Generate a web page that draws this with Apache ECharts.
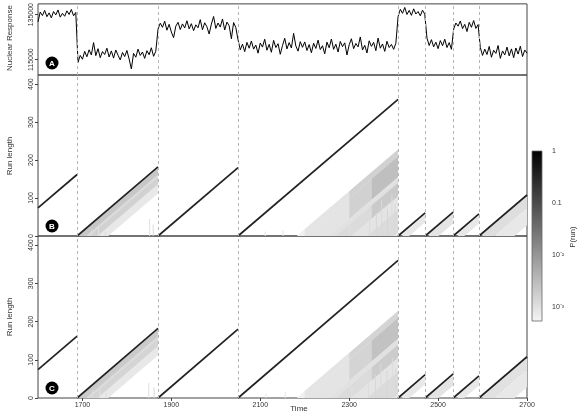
<!DOCTYPE html>
<html><head><meta charset="utf-8">
<script src="https://cdn.jsdelivr.net/npm/echarts@6/dist/echarts.min.js"></script>
<style>html,body{margin:0;padding:0;background:#fff}#chart{width:579px;height:413px}</style>
</head><body><div id="chart"></div>
<script>
// ---------- DATA ----------
const timeStart = 1600, timeStep = 5;
const responseValues = [
  131800,136200,134600,136900,134100,135800,133600,136400,134900,137100,133900,135600,134300,136700,135100,137300,134500,136000,
  113800,116900,115200,118700,116300,119400,117100,122600,116800,119900,115900,118600,
  117300,120100,116200,118900,115700,119300,117000,114900,118200,116400,119100,115300,
  110900,117800,116100,119700,116900,118400,115600,119000,117200,120300,116500,118800,
  128600,131200,129400,132100,128100,130700,127300,124800,129900,131600,128400,130900,
  129100,132300,128700,131000,127900,130500,129200,132800,128300,131400,129600,126400,
  130800,134200,128900,131300,129500,133100,128200,131700,130100,124300,131500,129300,
  123800,119400,121900,118600,122700,120100,123300,119700,121500,117900,122400,120600,
  124100,119200,121800,118300,123600,120400,122100,117400,121300,124500,119800,122600,
  120200,126700,121100,118800,123000,120500,122900,119100,121700,118100,122300,120000,
  123700,119500,121200,117600,122800,120300,124200,119600,121900,118400,123100,120800,
  122500,117100,121600,124300,119900,122200,120700,125100,119300,121400,118000,123400,
  120900,122700,119000,124600,120100,122000,118700,123200,120400,121800,119600,122300,
  134200,137400,135600,138200,135100,136900,134700,137600,135300,136400,134500,137000,135200,
  124600,121300,123900,120700,122800,119900,123500,121200,124100,120400,122600,119600,
  128600,131300,129900,132200,128800,130700,127500,131600,129400,132400,128900,130600,
  120400,116900,119700,117300,120900,116100,119200,117800,121300,115600,118900,117100,
  120600,116700,119800,115900,120200,117500,121000,116400,119300,117900
];
const changepoints = [1688,1870,2050,2410,2471,2534,2592];
const segStart   = [1600,1688,1870,2050,2410,2471,2534,2592];
const segEnd     = [1688,1870,2050,2410,2471,2534,2592,2700];
const runAtStart = [74,0,0,0,0,0,0,0];
const runAtEnd   = [162,182,180,360,61,63,58,108];
const timeTicks = [1700,1900,2100,2300,2500,2700];
const responseTicks = [115000,135000];
const runTicks = [0,100,200,300,400];
const probTicks = [-3,-2,-1,0];             // log10 P(run)
const probTickLabels = ['10\u207B\u00B3','10\u207B\u00B2','0.1','1'];
// bands of posterior mass parallel to the run-length diagonal:
// [segment origin s (r = t - s), tFrom, tTo, offsetTop, offsetBottom, probability]
const bandsB = [
  [1688,1690,1870,3,48,0.0012],[1688,1690,1870,4,20,0.0022],[1688,1700,1870,28,44,0.0016],[1688,1720,1870,48,70,0.0008],
  [2050,2182,2410,132,358,0.00062],
  [2050,2200,2300,132,150,0.0009],[2050,2300,2410,132,150,0.0016],
  [2050,2200,2300,150,205,0.0009],[2050,2300,2350,150,205,0.0016],[2050,2350,2410,150,205,0.0028],
  [2050,2255,2410,205,220,0.001],
  [2050,2270,2350,220,255,0.0012],[2050,2350,2410,220,255,0.002],
  [2050,2305,2410,255,290,0.0009],[2050,2340,2410,290,350,0.0012],
  [2410,2420,2471,5,25,0.0008],[2471,2480,2534,4,30,0.0009],[2534,2545,2592,4,25,0.0008],
  [2592,2600,2700,4,35,0.0011],[2592,2620,2700,35,80,0.0008]
];
const bandsC = [
  [1688,1690,1870,3,48,0.0012],[1688,1690,1870,4,20,0.002],[1688,1700,1870,28,44,0.0015],[1688,1720,1870,48,70,0.0008],
  [2050,2182,2410,132,358,0.00062],
  [2050,2200,2300,132,150,0.0009],[2050,2300,2410,132,150,0.0015],
  [2050,2200,2300,150,205,0.0009],[2050,2300,2350,150,205,0.0015],[2050,2350,2410,150,205,0.0026],
  [2050,2255,2410,205,220,0.001],
  [2050,2270,2350,220,255,0.0012],[2050,2350,2410,220,255,0.0019],
  [2050,2305,2410,255,290,0.0009],[2050,2340,2410,290,350,0.0012],
  [2410,2420,2471,5,25,0.0008],[2471,2480,2534,4,30,0.0009],[2534,2545,2592,4,25,0.0008],
  [2592,2600,2700,4,35,0.001],[2592,2620,2700,35,80,0.0008]
];
// vertical streaks near run length 0: [time, runLengthTop, probability]
const streaksB = [
  [1720,18,0.0012],[1735,25,0.001],[1750,12,0.0012],[1850,45,0.001],[1858,30,0.0012],
  [2110,12,0.0009],[2150,15,0.0009],[2205,20,0.0009],[2240,25,0.001],[2300,30,0.001],
  [2345,80,0.0012],[2360,60,0.0013],[2372,95,0.0012],[2385,70,0.0014],[2395,110,0.0012],[2402,85,0.0013]
];
const streaksC = [
  [1722,20,0.0012],[1738,22,0.001],[1752,12,0.0012],[1848,40,0.001],[1860,28,0.0012],
  [2112,12,0.0009],[2155,15,0.0009],[2200,18,0.0009],[2245,22,0.001],[2305,30,0.001],
  [2342,75,0.0012],[2358,62,0.0013],[2370,90,0.0012],[2384,72,0.0014],[2396,105,0.0012],[2404,80,0.0013]
];

// ---------- STYLE ----------
const FONT = 'Liberation Sans, Arial, sans-serif';
const probMin = -3.27;
function probColor(p){
  const f = Math.max(0, Math.min(1, (Math.log10(p) - probMin) / (0 - probMin)));
  const g = Math.round(245 * (1 - f));
  return 'rgb(' + g + ',' + g + ',' + g + ')';
}
const responseData = responseValues.map((v,i)=>[timeStart + i*timeStep, v]);
const dashed = {
  silent:true, symbol:['none','none'], label:{show:false}, animation:false,
  lineStyle:{color:'#b5b5b5', type:[3,3], width:1},
  emphasis:{disabled:true},
  data: changepoints.map(v=>({xAxis:v}))
};
function bandItem(params, api){
  const s=api.value(0), t0=api.value(1), t1=api.value(2), o1=api.value(3), o2=api.value(4), p=api.value(5);
  const pts=[[t0,t0-s-o1],[t1,t1-s-o1],[t1,t1-s-o2],[t0,t0-s-o2]].map(q=>api.coord(q));
  return {type:'polygon', shape:{points:pts}, style:{fill:probColor(p)}};
}
function streakItem(params, api){
  const t=api.value(0), r=api.value(1), p=api.value(2);
  const a=api.coord([t, r]), b=api.coord([t+2, 0]);
  return {type:'rect', shape:{x:a[0], y:a[1], width:Math.max(1,b[0]-a[0]), height:b[1]-a[1]}, style:{fill:probColor(p)}};
}
function diagSeries(xi){
  return segStart.map((s,k)=>({
    type:'line', xAxisIndex:xi, yAxisIndex:xi, z:4, showSymbol:false, silent:true,
    lineStyle:{color:'#222', width:1.7},
    data:[[s, runAtStart[k]],[segEnd[k], runAtEnd[k]]],
    markLine: k===0 ? dashed : undefined
  }));
}
const plain = v => String(v);
const axLabel = {fontFamily:FONT, fontSize:7, color:'#333'};
function runY(gi){
  return {type:'value', gridIndex:gi, min:0, max:424,
    axisLine:{show:false}, splitLine:{show:false},
    axisTick:{show:true, length:3, lineStyle:{color:'#444'}, customValues:runTicks},
    axisLabel:Object.assign({rotate:90, margin:3, customValues:runTicks, formatter:plain}, axLabel)};
}
function timeX(gi, labels){
  return {type:'value', gridIndex:gi, min:1600, max:2700,
    axisLine:{show:false}, splitLine:{show:false},
    axisTick:{show:labels, length:3, lineStyle:{color:'#444'}, customValues:timeTicks},
    axisLabel:Object.assign({show:labels, margin:4, customValues:timeTicks, formatter:plain}, axLabel)};
}
const gridBase = {left:38, width:489, show:true, borderColor:'#444', borderWidth:1, backgroundColor:'transparent'};

const chart = echarts.init(document.getElementById('chart'), null, {renderer:'canvas'});
chart.setOption({
  animation:false,
  backgroundColor:'#fff',
  grid:[
    Object.assign({top:3, height:72}, gridBase),
    Object.assign({top:75, height:161}, gridBase),
    Object.assign({top:236, height:162}, gridBase),
    {left:532, top:151, width:10, height:170, show:false}
  ],
  xAxis:[ timeX(0,false), timeX(1,false), timeX(2,true),
    {type:'value', gridIndex:3, min:0, max:1, show:false} ],
  yAxis:[
    {type:'value', gridIndex:0, min:108200, max:139800,
     axisLine:{show:false}, splitLine:{show:false},
     axisTick:{show:true, length:3, lineStyle:{color:'#444'}, customValues:responseTicks},
     axisLabel:Object.assign({rotate:90, margin:3, customValues:responseTicks, formatter:plain}, axLabel)},
    runY(1), runY(2),
    {type:'value', gridIndex:3, position:'right', min:probMin, max:0,
     axisLine:{show:false}, splitLine:{show:false},
     axisTick:{show:true, length:5, lineStyle:{color:'#444'}, customValues:probTicks},
     axisLabel:Object.assign({margin:10, customValues:probTicks,
       formatter:v=>probTickLabels[probTicks.indexOf(Math.round(v))]}, axLabel)}
  ],
  series:[
    {type:'line', xAxisIndex:0, yAxisIndex:0, data:responseData, showSymbol:false, silent:true,
     lineStyle:{color:'#000', width:1}, z:3, markLine:dashed},
    {type:'custom', xAxisIndex:1, yAxisIndex:1, renderItem:bandItem, data:bandsB, clip:true, z:1, silent:true},
    {type:'custom', xAxisIndex:1, yAxisIndex:1, renderItem:streakItem, data:streaksB, clip:true, z:1, silent:true},
    {type:'custom', xAxisIndex:2, yAxisIndex:2, renderItem:bandItem, data:bandsC, clip:true, z:1, silent:true},
    {type:'custom', xAxisIndex:2, yAxisIndex:2, renderItem:streakItem, data:streaksC, clip:true, z:1, silent:true},
    ...diagSeries(1), ...diagSeries(2),
    {type:'custom', xAxisIndex:3, yAxisIndex:3, data:[[0,0]], silent:true,
     renderItem:function(params, api){
       const a=api.coord([0,0]), b=api.coord([1,probMin]);
       return {type:'rect', shape:{x:a[0], y:a[1], width:b[0]-a[0], height:b[1]-a[1]},
         style:{fill:new echarts.graphic.LinearGradient(0,0,0,1,[{offset:0,color:'#000'},{offset:1,color:'#f5f5f5'}]),
                stroke:'#666', lineWidth:0.8}};
     }}
  ],
  graphic:[
    {type:'text', x:10, y:38, rotation:Math.PI/2, style:{text:'Nuclear Response', font:'8px '+FONT, fill:'#333', align:'center', verticalAlign:'middle'}},
    {type:'text', x:10, y:156, rotation:Math.PI/2, style:{text:'Run length', font:'8px '+FONT, fill:'#333', align:'center', verticalAlign:'middle'}},
    {type:'text', x:10, y:317, rotation:Math.PI/2, style:{text:'Run length', font:'8px '+FONT, fill:'#333', align:'center', verticalAlign:'middle'}},
    {type:'text', x:299, y:409, style:{text:'Time', font:'8px '+FONT, fill:'#333', align:'center', verticalAlign:'middle'}},
    {type:'text', x:573, y:237, rotation:Math.PI/2, style:{text:'P(run)', font:'7.5px '+FONT, fill:'#333', align:'center', verticalAlign:'middle'}},
    {type:'circle', x:52, y:63, shape:{r:6.5}, style:{fill:'#000'}},
    {type:'text', x:52, y:63.5, style:{text:'A', font:'bold 8px '+FONT, fill:'#fff', align:'center', verticalAlign:'middle'}},
    {type:'circle', x:52, y:226, shape:{r:6.5}, style:{fill:'#000'}},
    {type:'text', x:52, y:226.5, style:{text:'B', font:'bold 8px '+FONT, fill:'#fff', align:'center', verticalAlign:'middle'}},
    {type:'circle', x:52, y:388, shape:{r:6.5}, style:{fill:'#000'}},
    {type:'text', x:52, y:388.5, style:{text:'C', font:'bold 8px '+FONT, fill:'#fff', align:'center', verticalAlign:'middle'}}
  ]
});
</script></body></html>
